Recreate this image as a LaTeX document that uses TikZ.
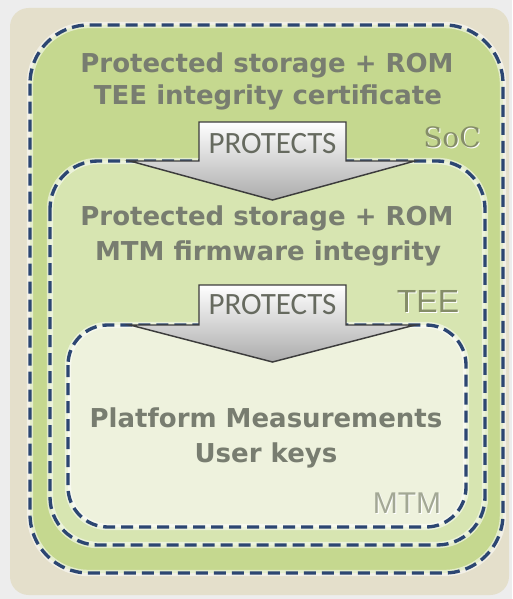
\documentclass[tikz,border=0pt]{standalone}
\usepackage{fontspec}
\setmainfont{DejaVu Sans}
\newfontfamily\protfont{Carlito}
\newfontfamily\seriflabel{DejaVu Serif}
\newfontfamily\sanslabel{Liberation Sans}
\definecolor{pagebg}{HTML}{EDEDED}
\definecolor{beige}{HTML}{E4DFCB}
\definecolor{socgreen}{HTML}{C5D88F}
\definecolor{teegreen}{HTML}{D7E5B1}
\definecolor{mtmfill}{HTML}{EEF2DD}
\definecolor{dashblue}{HTML}{2C4672}
\definecolor{txtgray}{HTML}{787D70}
\definecolor{lblolive}{HTML}{858D68}
\definecolor{lblgray}{HTML}{A3A895}
\definecolor{arrowedge}{HTML}{3C3C3C}
\tikzset{
  halo/.style={white, opacity=0.55, line width=4.8pt},
  dashbox/.style={draw=dashblue, line width=2.5pt, dash pattern=on 9pt off 4.5pt},
  bigtxt/.style={text=txtgray, font=\bfseries\fontsize{19.5pt}{22pt}\selectfont, anchor=base, inner sep=0pt},
  prottxt/.style={text=txtgray!85!black, font=\protfont\fontsize{23.25pt}{26pt}\selectfont, anchor=base, inner sep=0pt},
  blockarrow/.style={draw=arrowedge, line width=1.1pt, line join=miter, top color=white, bottom color=black!33},
}
\begin{document}
\begin{tikzpicture}[x=0.75pt,y=-0.75pt]
\useasboundingbox (0,0) rectangle (512,599);
\fill[pagebg] (0,0) rectangle (512,599);
\fill[beige, rounded corners=14pt] (10,8) rectangle (509,595);
% SoC box
\fill[socgreen, rounded corners=44pt] (30,25) rectangle (503,573);
\draw[halo, rounded corners=44pt] (30,25) rectangle (503,573);
\draw[dashbox, rounded corners=44pt] (30,25) rectangle (503,573);
% TEE box
\fill[teegreen, rounded corners=36pt] (50,161) rectangle (485,545);
\draw[halo, rounded corners=36pt] (50,161) rectangle (485,545);
\draw[dashbox, rounded corners=36pt] (50,161) rectangle (485,545);
% MTM box
\fill[mtmfill, rounded corners=30pt] (68,325) rectangle (466,527);
\draw[halo, rounded corners=30pt] (68,325) rectangle (466,527);
\draw[dashbox, rounded corners=30pt] (68,325) rectangle (466,527);
% arrows
\draw[blockarrow] (199,122) -- (346,122) -- (346,161) -- (415,161) -- (272.5,200) -- (130,161) -- (199,161) -- cycle;
\draw[blockarrow] (199,285) -- (346,285) -- (346,325) -- (415,325) -- (272.5,362) -- (130,325) -- (199,325) -- cycle;
% texts
\node[bigtxt] (s1) at (267,73) {Protected storage + ROM};
\node[bigtxt] (s2) at (268,105) {TEE integrity certificate};
\node[bigtxt] (t1) at (267,225) {Protected storage + ROM};
\node[bigtxt] (t2) at (268,260) {MTM firmware integrity};
\node[bigtxt] (m1) at (266,427) {Platform Measurements};
\node[bigtxt] (m2) at (266,462) {User keys};
\node[prottxt] (p1) at (272.5,153) {PROTECTS};
\node[prottxt] (p2) at (272.5,314) {PROTECTS};
% embossed labels
\node[anchor=base, inner sep=0pt, text=white, font=\seriflabel\fontsize{21pt}{24pt}\selectfont] at (453,148) {SoC};
\node[anchor=base, inner sep=0pt, text=lblolive, font=\seriflabel\fontsize{21pt}{24pt}\selectfont] (soc) at (452,147) {SoC};
\node[anchor=base, inner sep=0pt, text=white, font=\sanslabel\fontsize{24pt}{27pt}\selectfont] at (429,313) {TEE};
\node[anchor=base, inner sep=0pt, text=lblolive, font=\sanslabel\fontsize{24pt}{27pt}\selectfont] (tee) at (428,312) {TEE};
\node[anchor=base, inner sep=0pt, text=white, font=\sanslabel\fontsize{22.5pt}{25pt}\selectfont] at (408,514) {MTM};
\node[anchor=base, inner sep=0pt, text=lblgray, font=\sanslabel\fontsize{22.5pt}{25pt}\selectfont] (mtm) at (407,513) {MTM};
\end{tikzpicture}
\end{document}
